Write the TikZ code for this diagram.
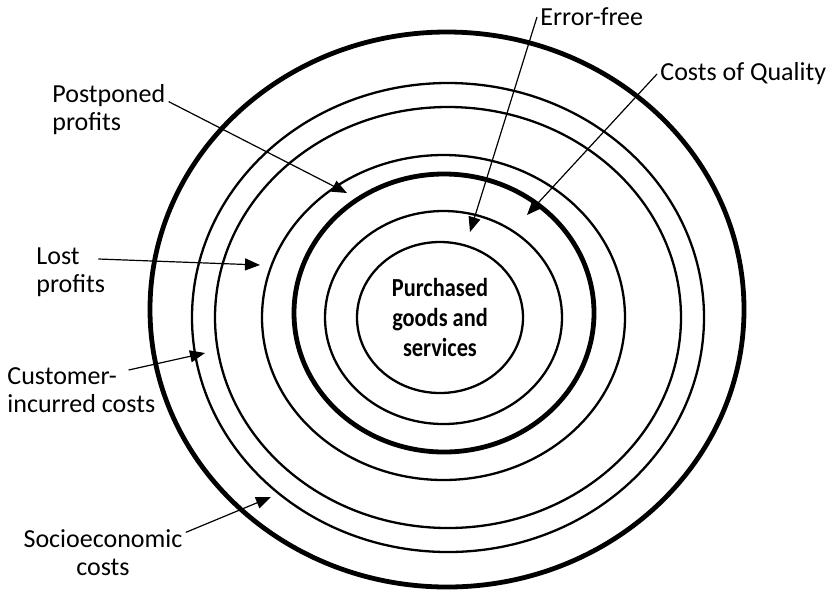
\documentclass[tikz,border=0pt]{standalone}
\usepackage{fontspec}
\setmainfont{Carlito}
\newfontfamily\narrowfont[FakeStretch=0.86]{Carlito}
\usetikzlibrary{arrows.meta}

\begin{document}
\begin{tikzpicture}[x=0.5pt,y=-0.5pt,
  ring/.style={line width=1.15pt},
  boldring/.style={line width=2.4pt},
  lbl/.style={font=\fontsize{13}{14}\selectfont,inner sep=1.5pt},
  pointer/.style={line width=0.6pt,-{Triangle[length=7.5pt,width=6pt]}}]
\useasboundingbox (0,0) rectangle (829,591);
% rings, from the outside in
\draw[boldring] (447,309.5) ellipse [x radius=297,y radius=277.5];
\draw[ring] (448,317.5) ellipse [x radius=256,y radius=234.5];
\draw[ring] (448,317.5) ellipse [x radius=233,y radius=210.5];
\draw[ring] (443.5,317.5) ellipse [x radius=181.5,y radius=162.5];
\draw[boldring] (444,313) ellipse [x radius=150,y radius=139];
\draw[ring] (443.5,317.5) ellipse [x radius=118.5,y radius=106.5];
\draw[ring] (440,317.5) ellipse [x radius=83,y radius=75.5];
\node[align=center,font=\narrowfont\bfseries\fontsize{13}{15}\selectfont] (core) at (440,317) {Purchased\\goods and\\services};
% labels
\node[lbl,anchor=west] (err) at (537,17) {Error-free};
\node[lbl,anchor=west] (cq) at (657,74) {Costs of Quality};
\node[lbl,anchor=west,align=left] (post) at (49,110) {Postponed\\profits};
\node[lbl,anchor=west,align=left] (lost) at (33,272) {Lost\\profits};
\node[lbl,anchor=west,align=left] (cust) at (4,390) {Customer-\\incurred costs};
\node[lbl,align=center] (socio) at (103,553) {Socioeconomic\\costs};
% arrow tips
\coordinate (tipErr) at (470,232);
\coordinate (tipCQ) at (527,215);
\coordinate (tipPost) at (347,193);
\coordinate (tipLost) at (260,265);
\coordinate (tipCust) at (205,353);
\coordinate (tipSocio) at (271,497);
\draw[pointer] (err.west) -- (tipErr);
\draw[pointer] (cq.west) -- (tipCQ);
\draw[pointer] (post.8) -- (tipPost);
\draw[pointer] ([xshift=-5pt,yshift=6.5pt]lost.east) -- (tipLost);
\draw[pointer] ([xshift=-15pt,yshift=10pt]cust.east) -- (tipCust);
\draw[pointer] (socio.14) -- (tipSocio);
\end{tikzpicture}
\end{document}
